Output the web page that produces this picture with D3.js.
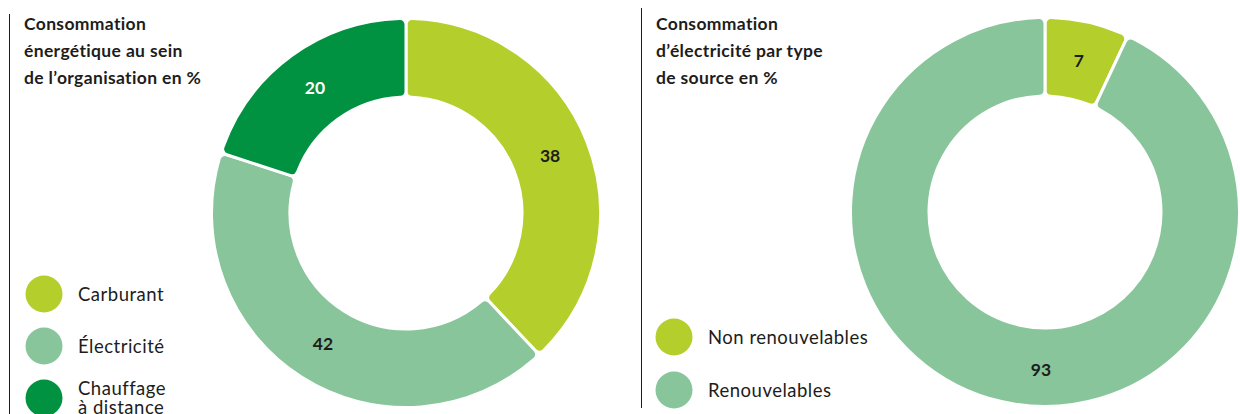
<!DOCTYPE html>
<html lang="fr">
<head>
<meta charset="UTF-8">
<title>Consommation énergétique</title>
<script src="https://d3js.org/d3.v7.min.js"></script>
<style>
body {
    margin: 0;
    background: #fff;
    font-family: Lato, "Open Sans", sans-serif;
}
svg { display: block; }
.title { font-weight: 700; font-size: 17.5px; letter-spacing: 0.35px; fill: #1d1d1b; }
.legend-text { font-size: 18.5px; letter-spacing: 0.5px; fill: #1d1d1b; }
.value { font-weight: 700; font-size: 17.5px; }
</style>
</head>
<body>
<svg id="chart" width="1240" height="414"></svg>
<script>
// data
const energyTitle = ["Consommation", "énergétique au sein", "de l’organisation en %"];
const energyCategories = ["Carburant", "Électricité", "Chauffage à distance"];
const energyValues = [38, 42, 20];

const elecTitle = ["Consommation", "d’électricité par type", "de source en %"];
const elecCategories = ["Non renouvelables", "Renouvelables"];
const elecValues = [7, 93];

const color = d3.scaleOrdinal()
    .domain(["Carburant", "Électricité", "Chauffage à distance", "Non renouvelables", "Renouvelables"])
    .range(["#b4ce2b", "#88c59a", "#009240", "#b4ce2b", "#88c59a"]);

const svg = d3.select("#chart");

function drawPanel(opts) {
    const g = svg.append("g").attr("transform", `translate(${opts.x},0)`);

    // divider line
    g.append("line")
        .attr("x1", 0.5).attr("x2", 0.5)
        .attr("y1", opts.lineTop).attr("y2", opts.lineBottom)
        .attr("stroke", "#1d1d1b").attr("stroke-width", 1);

    // title
    g.append("text")
        .attr("class", "title")
        .selectAll("tspan")
        .data(opts.title)
        .join("tspan")
        .attr("x", 15)
        .attr("y", (d, i) => 30 + i * 27)
        .text(d => d);

    // legend
    const leg = g.selectAll(".leg")
        .data(opts.categories)
        .join("g")
        .attr("class", "leg")
        .attr("transform", (d, i) => `translate(0,${opts.legendTop + i * opts.legendStep})`);

    leg.append("circle")
        .attr("cx", opts.legendDotX)
        .attr("r", 18.5)
        .attr("fill", d => color(d));

    leg.each(function(d) {
        const words = d.split(" ");
        const lines = (d.length > opts.wrapAt && words.length > 1)
            ? [words[0], words.slice(1).join(" ")] : [d];
        d3.select(this).append("text")
            .attr("class", "legend-text")
            .selectAll("tspan")
            .data(lines)
            .join("tspan")
            .attr("x", opts.legendDotX + 34)
            .attr("y", (l, i) => 6.5 - (lines.length - 1) * 9.5 + i * 19)
            .text(l => l);
    });

    // donut
    const pie = d3.pie().sort(null).value(d => d.value);
    const arcs = pie(opts.categories.map((c, i) => ({ name: c, value: opts.values[i] })));
    const arc = d3.arc().innerRadius(116).outerRadius(194.5).cornerRadius(6);
    const labelArc = d3.arc().innerRadius(155).outerRadius(155);

    const donut = svg.append("g")
        .attr("transform", `translate(${opts.cx},${opts.cy})`);

    donut.selectAll("path")
        .data(arcs)
        .join("path")
        .attr("d", arc)
        .attr("fill", d => color(d.data.name))
        .attr("stroke", "#fff")
        .attr("stroke-width", 3);

    donut.selectAll("text")
        .data(arcs)
        .join("text")
        .attr("class", "value")
        .attr("text-anchor", "middle")
        .attr("dy", "0.35em")
        .attr("fill", d => d.data.name === "Chauffage à distance" ? "#fff" : "#1d1d1b")
        .attr("transform", d => {
            // big slice: put the label at the bottom of the ring
            if (d.endAngle - d.startAngle > Math.PI) {
                return `translate(-4,158)`;
            }
            return `translate(${labelArc.centroid(d)})`;
        })
        .text(d => d.data.value);
}

drawPanel({
    x: 9, lineTop: 14, lineBottom: 414,
    title: energyTitle, categories: energyCategories, values: energyValues,
    legendTop: 294, legendStep: 52, legendDotX: 35, wrapAt: 14,
    cx: 406, cy: 213
});

drawPanel({
    x: 641, lineTop: 8, lineBottom: 408,
    title: elecTitle, categories: elecCategories, values: elecValues,
    legendTop: 337, legendStep: 53, legendDotX: 33, wrapAt: 40,
    cx: 1045, cy: 212
});
</script>
</body>
</html>
